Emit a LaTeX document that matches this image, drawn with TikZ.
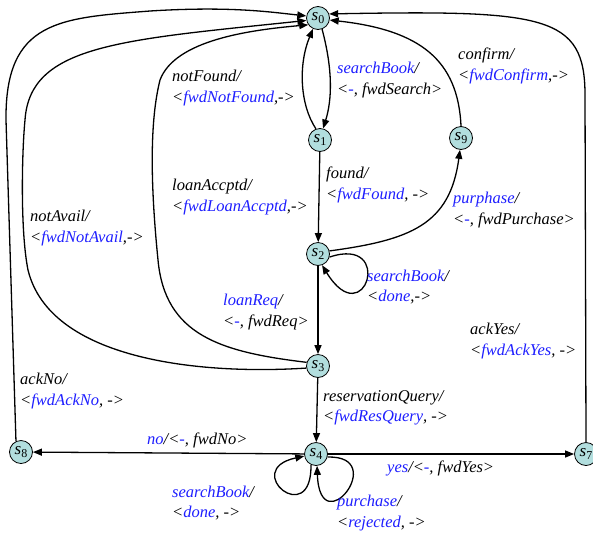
\documentclass[tikz,border=0pt]{standalone}
\usepackage{fontspec}
\setmainfont{Liberation Serif}
\usetikzlibrary{arrows.meta}
\definecolor{stfill}{RGB}{178,222,222}
\definecolor{lblue}{RGB}{30,30,255}
\newcommand{\bl}[1]{\textcolor{lblue}{#1}}
\newcommand{\stname}[1]{{\itshape s}\raisebox{-3.5pt}{\fontsize{12}{12}\selectfont #1}}
\begin{document}
\begin{tikzpicture}[x=1pt,y=-1pt,
 state/.style={circle,draw,fill=stfill,line width=0.8pt,minimum size=23pt,inner sep=0pt,font=\fontsize{17}{17}\selectfont},
 edge/.style={line width=1.3pt,-{Triangle[length=9pt,width=7pt]}},
 lbl/.style={anchor=west,inner sep=0pt,align=left,font=\fontsize{16.5}{20.5}\selectfont\itshape}]
\useasboundingbox (0,0) rectangle (593,536);
% states
\node[state] (s0) at (318,18) {\stname{0}};
\node[state] (s1) at (320,140) {\stname{1}};
\node[state] (s9) at (461,138) {\stname{9}};
\node[state] (s2) at (318,254) {\stname{2}};
\node[state] (s3) at (318,366) {\stname{3}};
\node[state] (s4) at (316,454) {\stname{4}};
\node[state] (s8) at (21,452) {\stname{8}};
\node[state] (s7) at (586,454) {\stname{7}};
% edges
\draw[edge] (s0.-70) .. controls (333,70) and (332,100) .. (s1.75);
\draw[edge] (s1.110) .. controls (300,105) and (298,65) .. (s0.245);
\draw[edge] (s1) -- (s2);
\draw[edge] (s2) -- (s3);
\draw[edge] (s3) -- (s4);
\draw[edge] (s2.15) .. controls (410,240) and (450,225) .. (s9.265);
\draw[edge] (s9.north) .. controls (458,60) and (420,30) .. (s0.-10);
\draw[edge] (s7.north) -- (585,95) .. controls (585,15) and (545,10) .. (s0.20);
\draw[edge] (s8.115) -- (6,120) .. controls (5,20) and (60,18) .. (150,11) .. controls (230,6) and (270,12) .. (s0.170);
\draw[edge] (s3.190) .. controls (200,375) and (50,360) .. (28,270) .. controls (20,230) and (22,150) .. (25,120) .. controls (30,45) and (120,40) .. (s0.192);
\draw[edge] (s3.162) .. controls (220,352) and (165,335) .. (158,260) .. controls (150,180) and (150,120) .. (160,80) .. controls (175,40) and (250,30) .. (s0.215);
\draw[edge] (s2.-15) .. controls (395,235) and (365,335) .. (s2.-70);
\draw[edge] (s4) -- (s7);
\draw[edge] (s4) -- (s8);
\draw[edge] (s4.-115) .. controls (312,530) and (240,470) .. (s4.190);
\draw[edge] (s4.-15) .. controls (390,455) and (320,545) .. (s4.-85);
% labels
\node[lbl] (l1) at (337,80) {\bl{searchBook}/\\<\bl{-}, fwdSearch>};
\node[lbl] (l2) at (172,88) {notFound/\\<\bl{fwdNotFound},->};
\node[lbl] (l3) at (458,66) {confirm/\\<\bl{fwdConfirm},->};
\node[lbl] (l4) at (326,185) {found/\\<\bl{fwdFound}, ->};
\node[lbl] (l5) at (172,197) {loanAccptd/\\<\bl{fwdLoanAccptd},->};
\node[lbl] (l6) at (30,228) {notAvail/\\<\bl{fwdNotAvail},->};
\node[lbl] (l7) at (453,210) {\bl{purphase}/\\<\bl{-}, fwdPurchase>};
\node[lbl] (l8) at (367,287) {\bl{searchBook}/\\<\bl{done},->};
\node[lbl] (l9) at (223,312) {\bl{loanReq}/\\<\bl{-}, fwdReq>};
\node[lbl] (l10) at (470,341) {ackYes/\\<\bl{fwdAckYes}, ->};
\node[lbl] (l11) at (20,391) {ackNo/\\<\bl{fwdAckNo}, ->};
\node[lbl] (l12) at (323,408) {reservationQuery/\\<\bl{fwdResQuery}, ->};
\node[lbl] (l13) at (147,440) {\bl{no}/<\bl{-}, fwdNo>};
\node[lbl] (l14) at (387,468) {\bl{yes}/<\bl{-}, fwdYes>};
\node[lbl] (l15) at (172,503) {\bl{searchBook}/\\<\bl{done}, ->};
\node[lbl] (l16) at (337,513) {\bl{purchase}/\\<\bl{rejected}, ->};
\end{tikzpicture}
\end{document}
